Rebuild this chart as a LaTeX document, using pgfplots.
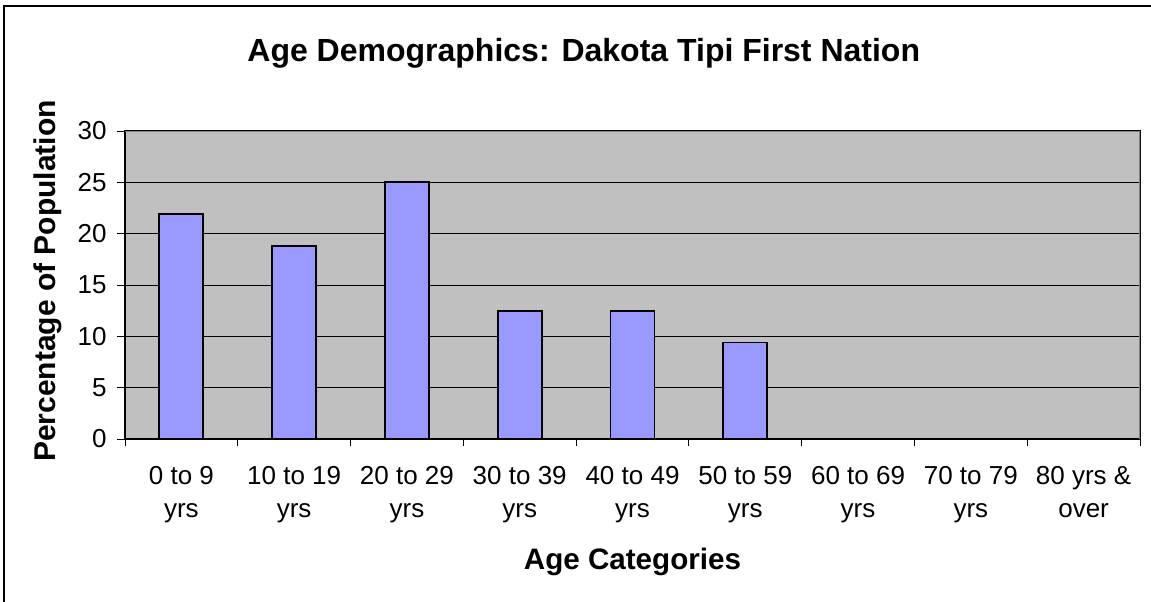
\documentclass[border=0pt]{standalone}
\usepackage{fontspec}
\setmainfont{Liberation Sans}
\usepackage{pgfplots}
\pgfplotsset{compat=1.18}
\definecolor{barblue}{HTML}{9999FF}
\definecolor{plotgray}{HTML}{C0C0C0}
\begin{document}
\begin{tikzpicture}[x=1pt,y=1pt]
\useasboundingbox (0,0) rectangle (575.5,300.5);
\draw[line width=1pt] (2,-5) -- (2,297.5) -- (580,297.5);
\begin{axis}[
  at={(62.5pt,81pt)}, anchor=south west,
  scale only axis, width=507.5pt, height=154pt,
  xmin=-0.5, xmax=8.5, ymin=0, ymax=30,
  axis background/.style={fill=plotgray},
  ytick={0,5,...,30},
  xtick={0,...,8},
  xticklabels={{0 to 9\\yrs},{10 to 19\\yrs},{20 to 29\\yrs},{30 to 39\\yrs},{40 to 49\\yrs},{50 to 59\\yrs},{60 to 69\\yrs},{70 to 79\\yrs},{80 yrs \&\\over}},
  minor xtick={-0.5,0.5,...,8.5},
  major x tick style={draw=none},
  minor x tick style={black, line width=0.5pt},
  minor tick length=3.5pt,
  major tick length=4pt,
  y tick style={black, line width=0.5pt},
  tick align=outside, tick pos=left,
  ymajorgrids, major grid style={black, line width=0.5pt},
  axis line style={black, line width=0.6pt},
  /pgf/number format/assume math mode=true,
  xticklabel style={align=center, font=\fontsize{13}{16.5}\selectfont, yshift=-6pt},
  yticklabel style={font=\fontsize{13}{15}\selectfont, xshift=-1.7pt},
  title={Age Demographics: Dakota Tipi First Nation},
  title style={at={(axis description cs:0.452,1.214)}, anchor=center, font=\bfseries\fontsize{16}{18}\selectfont},
  xlabel={Age Categories},
  xlabel style={at={(axis description cs:0.5,-0.40)}, anchor=center, font=\bfseries\fontsize{14.8}{17}\selectfont},
  ylabel={Percentage of Population},
  ylabel style={at={(axis description cs:-0.076,0.513)}, anchor=center, font=\bfseries\fontsize{15}{17}\selectfont},
  ybar, bar width=22pt,
]
\addplot[fill=barblue, draw=black, line width=0.9pt] coordinates {
  (0,21.9) (1,18.8) (2,25.0) (3,12.5) (4,12.5) (5,9.4) (6,0) (7,0) (8,0)
};
\draw[gray, line width=0.6pt] (rel axis cs:0,1) -- (rel axis cs:1,1) -- (rel axis cs:1,0);
\end{axis}
\end{tikzpicture}
\end{document}
